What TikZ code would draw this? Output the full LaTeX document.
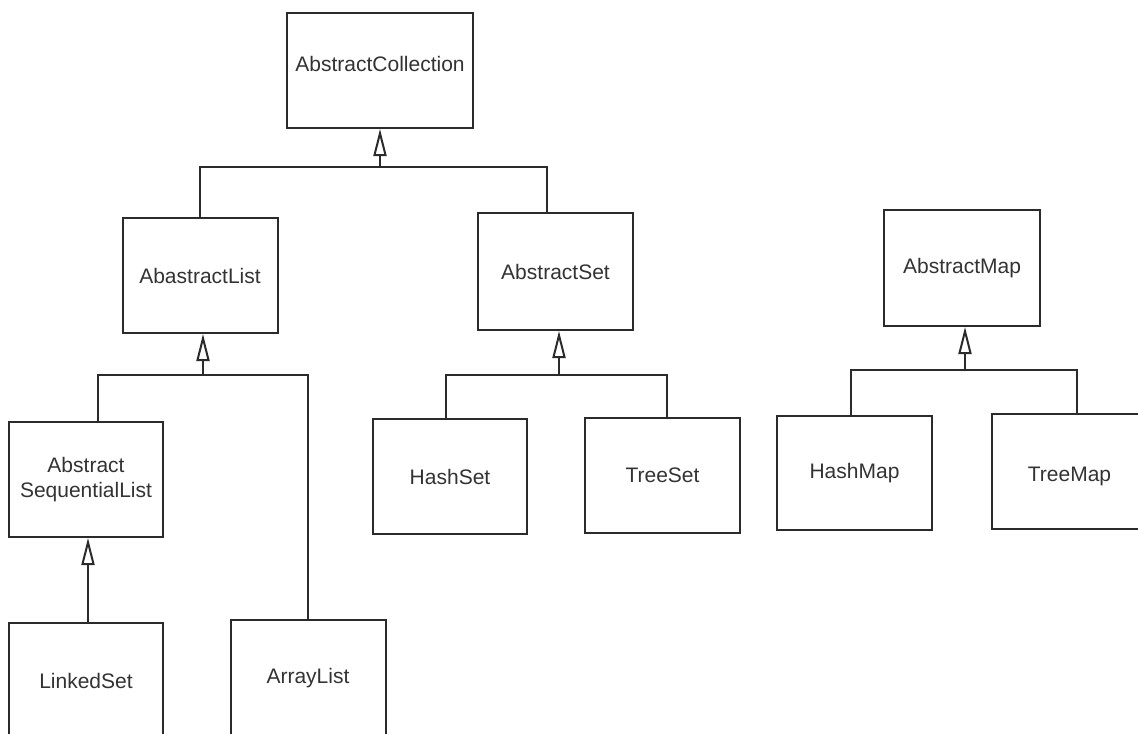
\documentclass[tikz,border=0pt]{standalone}
\usepackage{fontspec}
\setmainfont{Liberation Sans}
\usetikzlibrary{arrows.meta}
\definecolor{ink}{HTML}{2B2B2B}
\definecolor{txt}{HTML}{333333}
\tikzset{
  cls/.style={draw=ink, line width=1pt, fill=white, text=txt, inner sep=0pt,
              font=\fontsize{10.5}{12.6}\selectfont, align=center},
  link/.style={draw=ink, line width=1.1pt},
  gen/.style={link, -{Triangle[open, length=13.5pt, width=6.5pt, line width=1pt]}}
}
\begin{document}
\begin{tikzpicture}[x=0.5pt,y=-0.5pt]
\useasboundingbox (0,0) rectangle (1138,733);
\clip (0,0) rectangle (1138,733);
\fill[white] (0,0) rectangle (1138,733);

% nodes
\node[cls, minimum width=93pt, minimum height=57.5pt, text depth=6.5pt] (coll) at (380,70.5) {AbstractCollection};
\node[cls, minimum width=77.5pt, minimum height=57.5pt] (alist) at (200,275.5) {AbastractList};
\node[cls, minimum width=77.5pt, minimum height=58.5pt] (aset) at (555.5,271.5) {AbstractSet};
\node[cls, minimum width=77pt, minimum height=57.5pt] (aseq) at (86,479.5) {Abstract\\SequentialList};
\node[cls, minimum width=77pt, minimum height=58pt] (linked) at (86,681) {LinkedSet};
\node[cls, minimum width=77.5pt, minimum height=58pt] (array) at (308,678) {ArrayList};
\node[cls, minimum width=77pt, minimum height=57.5pt] (hset) at (450,476.5) {HashSet};
\node[cls, minimum width=77.5pt, minimum height=57.5pt] (tset) at (662.5,475.5) {TreeSet};
\node[cls, minimum width=78pt, minimum height=58pt] (amap) at (962,268) {AbstractMap};
\node[cls, minimum width=77.5pt, minimum height=57pt] (hmap) at (854.5,473) {HashMap};
\node[cls, minimum width=77.5pt, minimum height=57.5pt, text height=12pt] (tmap) at (1069.5,471.5) {TreeMap};

% bus points
\coordinate (b1) at (380,167);
\coordinate (b2) at (203,375);
\coordinate (b3) at (559,375);
\coordinate (b4) at (965,370);

% AbstractCollection hierarchy
\draw[link] (alist.north) |- (b1) -| ([xshift=-4.25pt]aset.north);
\draw[gen] (b1) -- (coll.south);

% AbastractList hierarchy
\draw[link] ([xshift=6pt]aseq.north) |- (b2) -| (array.north);
\draw[gen] (b2) -- ([xshift=1.5pt]alist.south);
\draw[gen] ([xshift=1pt]linked.north) -- ([xshift=1pt]aseq.south);

% AbstractSet hierarchy
\draw[link] ([xshift=-2pt]hset.north) |- (b3) -| ([xshift=2.25pt]tset.north);
\draw[gen] (b3) -- ([xshift=1.75pt]aset.south);

% AbstractMap hierarchy
\draw[link] ([xshift=-1.75pt]hmap.north) |- (b4) -| ([xshift=3.75pt]tmap.north);
\draw[gen] (b4) -- ([xshift=1.5pt]amap.south);
\end{tikzpicture}
\end{document}
